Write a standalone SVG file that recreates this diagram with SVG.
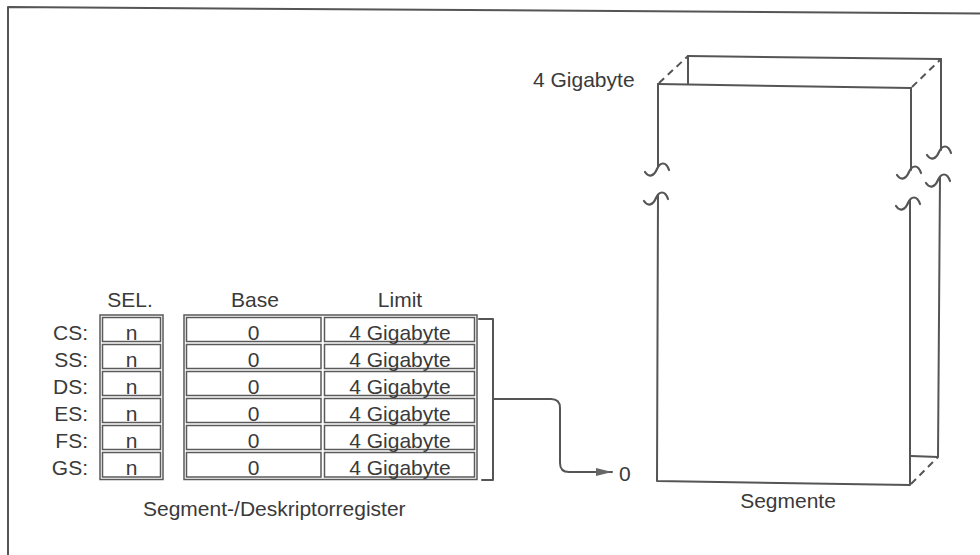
<svg xmlns="http://www.w3.org/2000/svg" width="980" height="555" viewBox="0 0 980 555">
<style>
text{font-family:"Liberation Sans",Arial,Helvetica,sans-serif;font-size:21px;fill:#3a3a3a}
.c{text-anchor:middle}
.r{text-anchor:end}
.ln{fill:none;stroke:#555;stroke-width:2;stroke-linecap:round;stroke-linejoin:round}
.tb{fill:#fff;stroke:#5a5a5a;stroke-width:1.5}
.ds{fill:none;stroke:#555;stroke-width:2;stroke-dasharray:7 5}
</style>
<defs>
<path id="sq" d="M-12,6 C-8,12 -3,10 0,3 C3,-4 9,-5 12,4" fill="none" stroke="#555" stroke-width="2.2" stroke-linecap="round"/>
<marker id="ah" viewBox="0 0 16 8" refX="16" refY="4" markerWidth="16" markerHeight="8" markerUnits="userSpaceOnUse" orient="auto">
<path d="M0,0 L16,4 L0,8 Z" fill="#666"/>
</marker>
</defs>
<rect width="980" height="555" fill="#fff"/>
<path class="ln" d="M8,555 L8,7 L980,13.5" stroke-width="1.5"/>

<g id="registers">
<text x="130" y="307" class="c">SEL.</text>
<text x="255" y="307" class="c">Base</text>
<text x="400" y="307" class="c">Limit</text>
<rect class="tb" x="100" y="315" width="63" height="164.5"/>
<rect class="tb" x="184" y="315" width="293" height="164.5"/>
<g id="row-cs">
<text x="88" y="339.5" class="r">CS:</text>
<rect class="tb" x="102.5" y="317.5" width="58" height="24"/>
<rect class="tb" x="186.5" y="317.5" width="134.5" height="24"/>
<rect class="tb" x="324.5" y="317.5" width="150" height="24"/>
<text x="131.5" y="339.5" class="c">n</text><text x="253.5" y="339.5" class="c">0</text><text x="400" y="339.5" class="c">4 Gigabyte</text>
</g>
<g id="row-ss">
<text x="88" y="366.5" class="r">SS:</text>
<rect class="tb" x="102.5" y="344.5" width="58" height="24"/>
<rect class="tb" x="186.5" y="344.5" width="134.5" height="24"/>
<rect class="tb" x="324.5" y="344.5" width="150" height="24"/>
<text x="131.5" y="366.5" class="c">n</text><text x="253.5" y="366.5" class="c">0</text><text x="400" y="366.5" class="c">4 Gigabyte</text>
</g>
<g id="row-ds">
<text x="88" y="393.5" class="r">DS:</text>
<rect class="tb" x="102.5" y="371.5" width="58" height="24"/>
<rect class="tb" x="186.5" y="371.5" width="134.5" height="24"/>
<rect class="tb" x="324.5" y="371.5" width="150" height="24"/>
<text x="131.5" y="393.5" class="c">n</text><text x="253.5" y="393.5" class="c">0</text><text x="400" y="393.5" class="c">4 Gigabyte</text>
</g>
<g id="row-es">
<text x="88" y="420.5" class="r">ES:</text>
<rect class="tb" x="102.5" y="398.5" width="58" height="24"/>
<rect class="tb" x="186.5" y="398.5" width="134.5" height="24"/>
<rect class="tb" x="324.5" y="398.5" width="150" height="24"/>
<text x="131.5" y="420.5" class="c">n</text><text x="253.5" y="420.5" class="c">0</text><text x="400" y="420.5" class="c">4 Gigabyte</text>
</g>
<g id="row-fs">
<text x="88" y="447.5" class="r">FS:</text>
<rect class="tb" x="102.5" y="425.5" width="58" height="24"/>
<rect class="tb" x="186.5" y="425.5" width="134.5" height="24"/>
<rect class="tb" x="324.5" y="425.5" width="150" height="24"/>
<text x="131.5" y="447.5" class="c">n</text><text x="253.5" y="447.5" class="c">0</text><text x="400" y="447.5" class="c">4 Gigabyte</text>
</g>
<g id="row-gs">
<text x="88" y="474.5" class="r">GS:</text>
<rect class="tb" x="102.5" y="452.5" width="58" height="24.5"/>
<rect class="tb" x="186.5" y="452.5" width="134.5" height="24.5"/>
<rect class="tb" x="324.5" y="452.5" width="150" height="24.5"/>
<text x="131.5" y="474.5" class="c">n</text><text x="253.5" y="474.5" class="c">0</text><text x="400" y="474.5" class="c">4 Gigabyte</text>
</g>
<path class="ln" d="M479,319 L493,319 L493,480 L482,480" stroke-width="1.8"/>
<text x="143" y="516">Segment-/Deskriptorregister</text>
</g>

<g id="connectors">
<path class="ln" d="M493,399 L551,399 Q560,399 560,408 L560,463 Q560,472 569,472 L612,472" stroke-width="1.8" marker-end="url(#ah)"/>
</g>

<g id="zero">
<text x="619" y="481">0</text>
</g>

<g id="segment">
<path class="ln" d="M688,56 L941,59"/>
<path class="ln" d="M688,56 L688,84"/>
<path class="ln" d="M658,84 L911,88"/>
<path class="ds" d="M659,83 L688,56"/>
<path class="ds" d="M912,87 L941,59"/>
<path class="ds" d="M911,484 L938,457"/>
<path class="ln" d="M658,84 L658,167"/>
<path class="ln" d="M658,195 L657,481 L910,485 L910,200"/>
<path class="ln" d="M911,88 L911,170"/>
<path class="ln" d="M941,59 L941,150"/>
<path class="ln" d="M940,177 L938,457 L911,456"/>
<use href="#sq" x="657" y="166"/>
<use href="#sq" x="656" y="195"/>
<use href="#sq" x="909" y="169"/>
<use href="#sq" x="908" y="200"/>
<use href="#sq" x="939" y="149"/>
<use href="#sq" x="938" y="177"/>
<text x="533" y="87">4 Gigabyte</text>
<text x="788" y="508" class="c">Segmente</text>
</g>
</svg>
